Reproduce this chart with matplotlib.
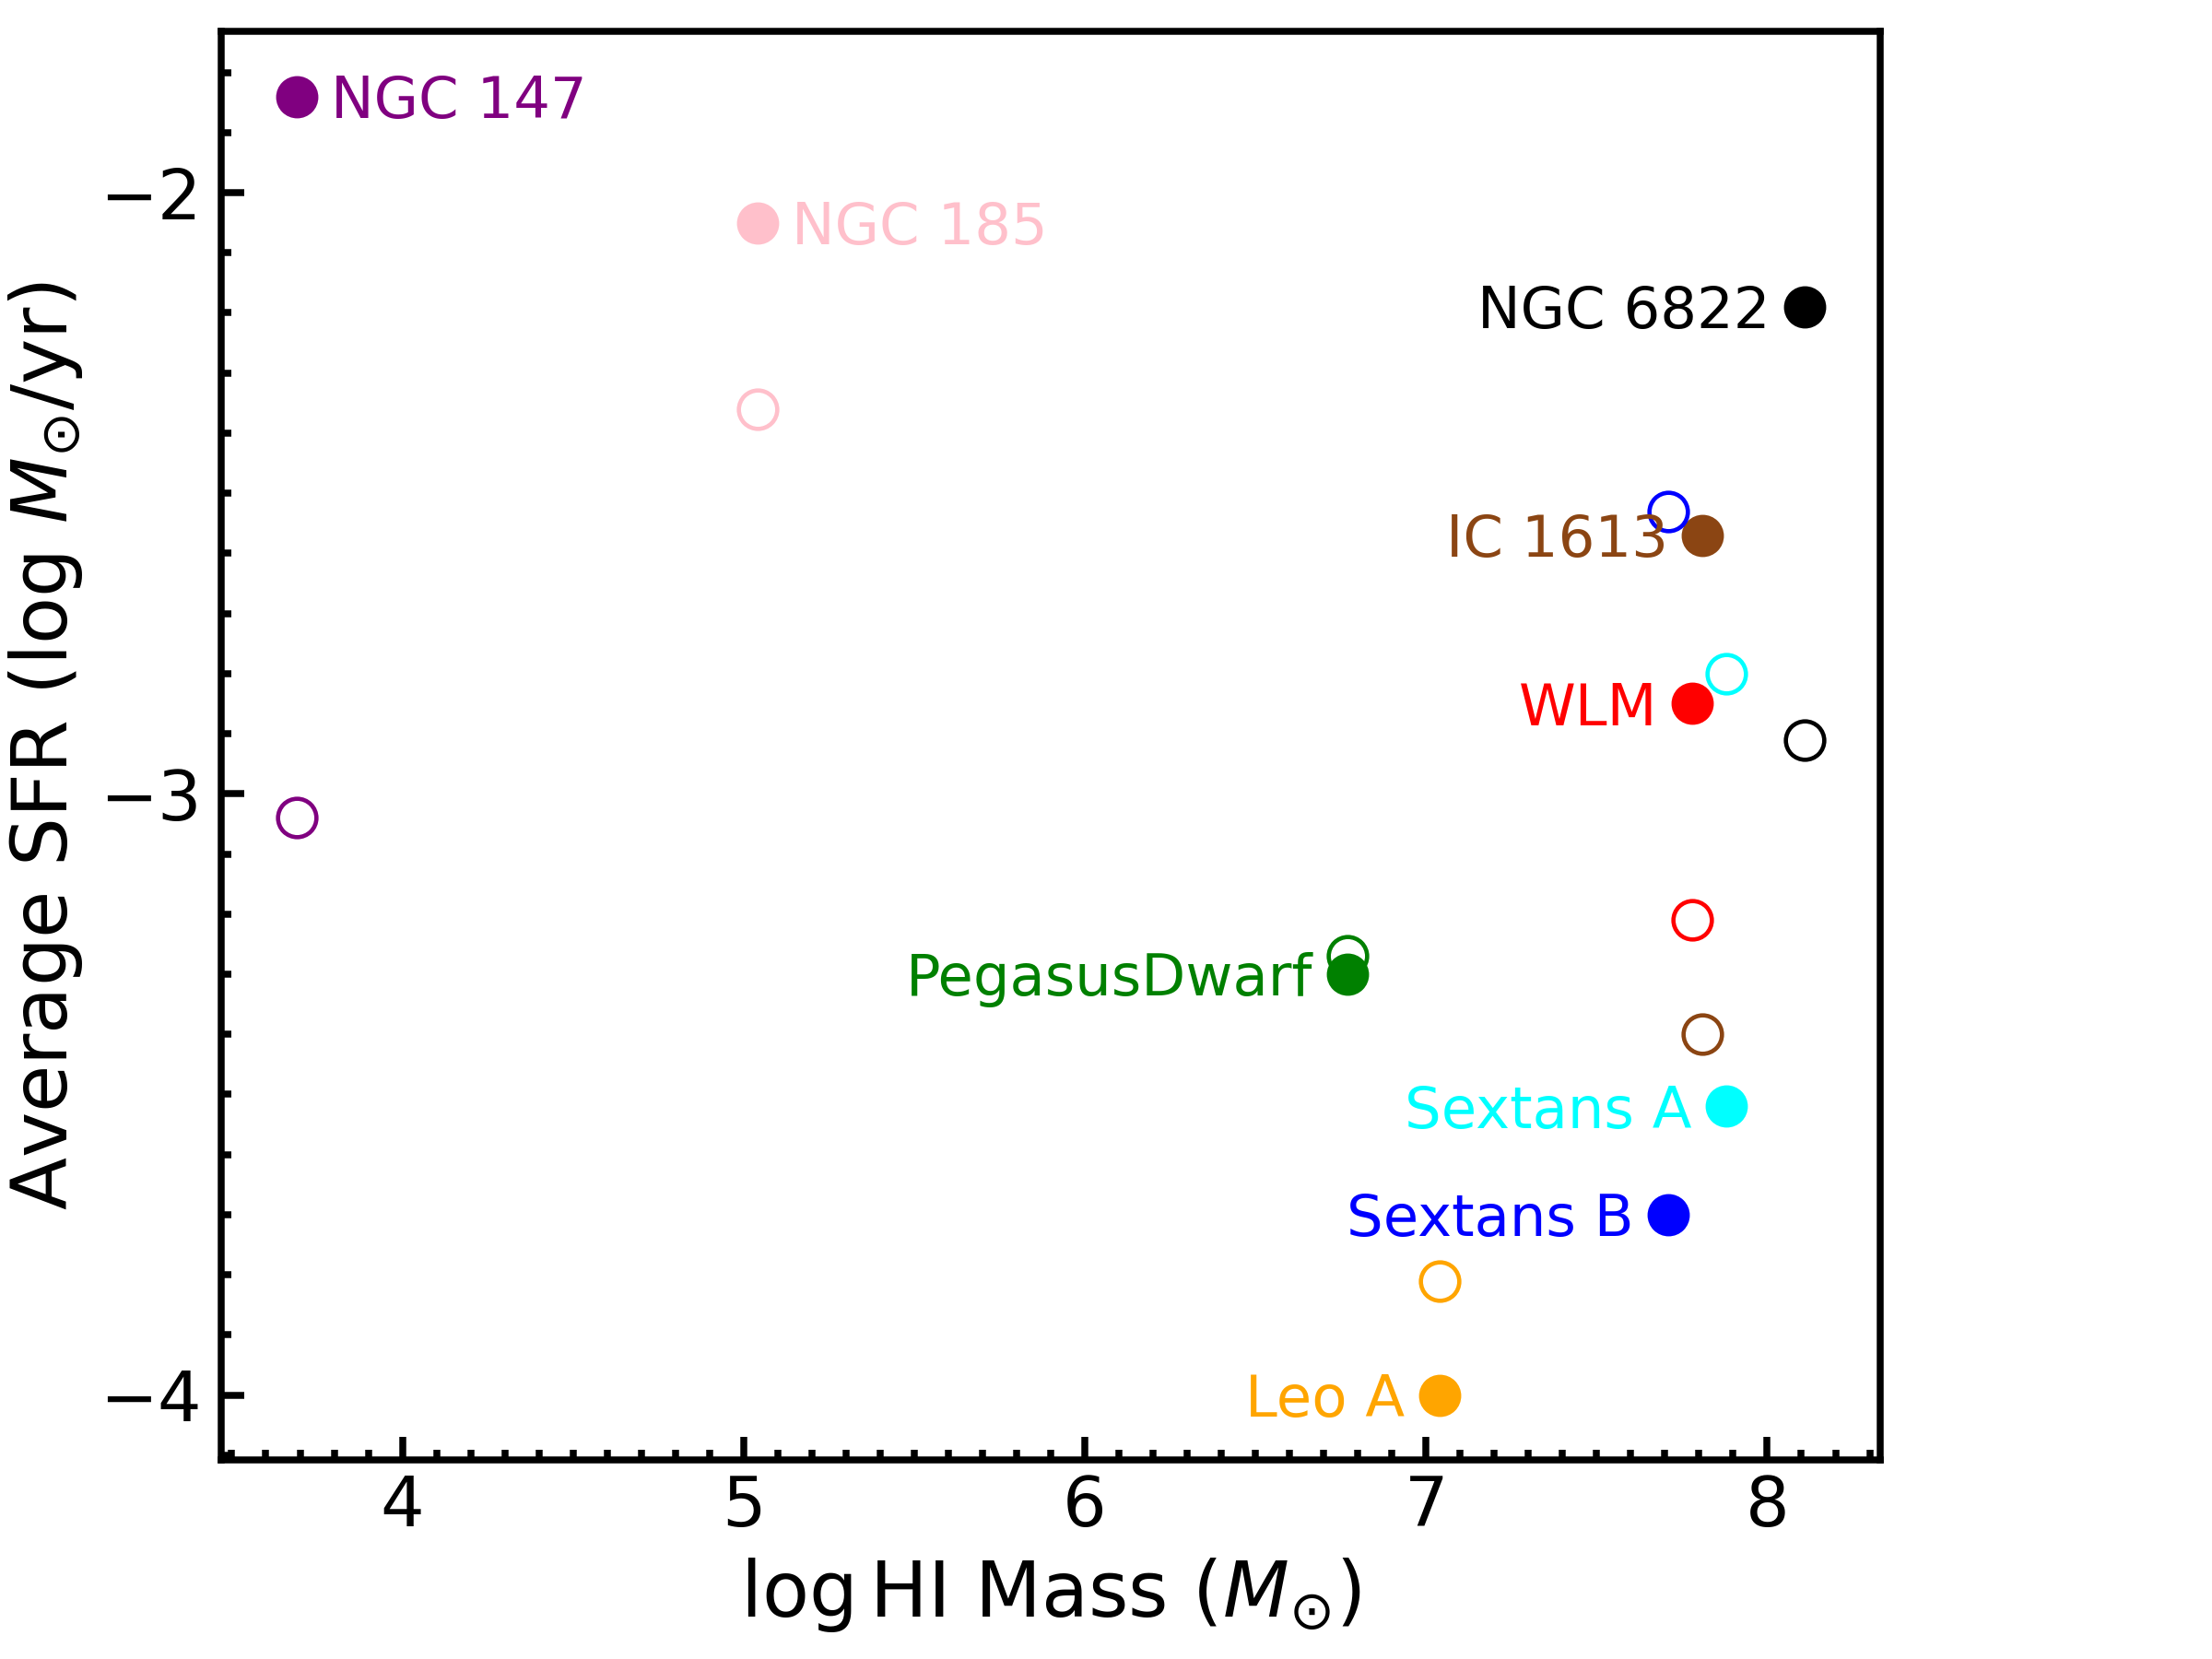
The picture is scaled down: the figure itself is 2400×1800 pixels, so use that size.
import matplotlib
matplotlib.use("Agg")
import matplotlib.pyplot as plt

# galaxies, HI mass and the two SFR estimates (filled / open markers)
names = ["NGC 147", "NGC 185", "NGC 6822", "IC 1613", "Sextans B",
         "WLM", "Sextans A", "PegasusDwarf", "Leo A"]
colors = ["purple", "pink", "black", "saddlebrown", "blue",
          "red", "cyan", "green", "orange"]
log_hi_mass = [3.69, 5.04, 8.11, 7.81, 7.71, 7.78, 7.88, 6.77, 7.04]
sfr_filled = [-1.84, -2.05, -2.19, -2.57, -3.70, -2.85, -3.52, -3.30, -4.00]
sfr_open = [-3.04, -2.36, -2.91, -3.40, -2.53, -3.21, -2.80, -3.27, -3.81]
label_right = ["NGC 147", "NGC 185"]

fig, ax = plt.subplots(figsize=(8, 6), dpi=300)
fig.subplots_adjust(left=0.10, right=0.85, top=0.981, bottom=0.12)

for name, c, x, y1, y2 in zip(names, colors, log_hi_mass, sfr_filled, sfr_open):
    ax.plot(x, y1, "o", color=c, ms=10, mew=1)
    ax.plot(x, y2, "o", mfc="none", mec=c, ms=10, mew=1.1)
    # labels sit next to the filled point
    if name in label_right:
        ax.annotate(name, (x, y1), xytext=(9, 0), textcoords="offset points",
                    ha="left", va="center_baseline", color=c, fontsize=15)
    else:
        ax.annotate(name, (x, y1), xytext=(-9, 0), textcoords="offset points",
                    ha="right", va="center_baseline", color=c, fontsize=15)

ax.set_xlabel(r"$\log$HI Mass ($M_{\odot}$)", fontsize=20)
ax.set_ylabel(r"Average SFR (log $M_{\odot}$/yr)", fontsize=20)

ax.set_xticks([4, 5, 6, 7, 8])
ax.set_yticks([-4, -3, -2])
ax.xaxis.set_minor_locator(matplotlib.ticker.MultipleLocator(0.1))
ax.yaxis.set_minor_locator(matplotlib.ticker.MultipleLocator(0.1))
ax.tick_params(which="both", direction="in", top=False, right=False,
               labelsize=18, width=1.8)
ax.tick_params(which="major", length=6)
ax.tick_params(which="minor", length=2.7)
ax.tick_params(axis="y", pad=5)
for s in ax.spines.values():
    s.set_linewidth(1.8)

fig.savefig("out.png", dpi=300)
